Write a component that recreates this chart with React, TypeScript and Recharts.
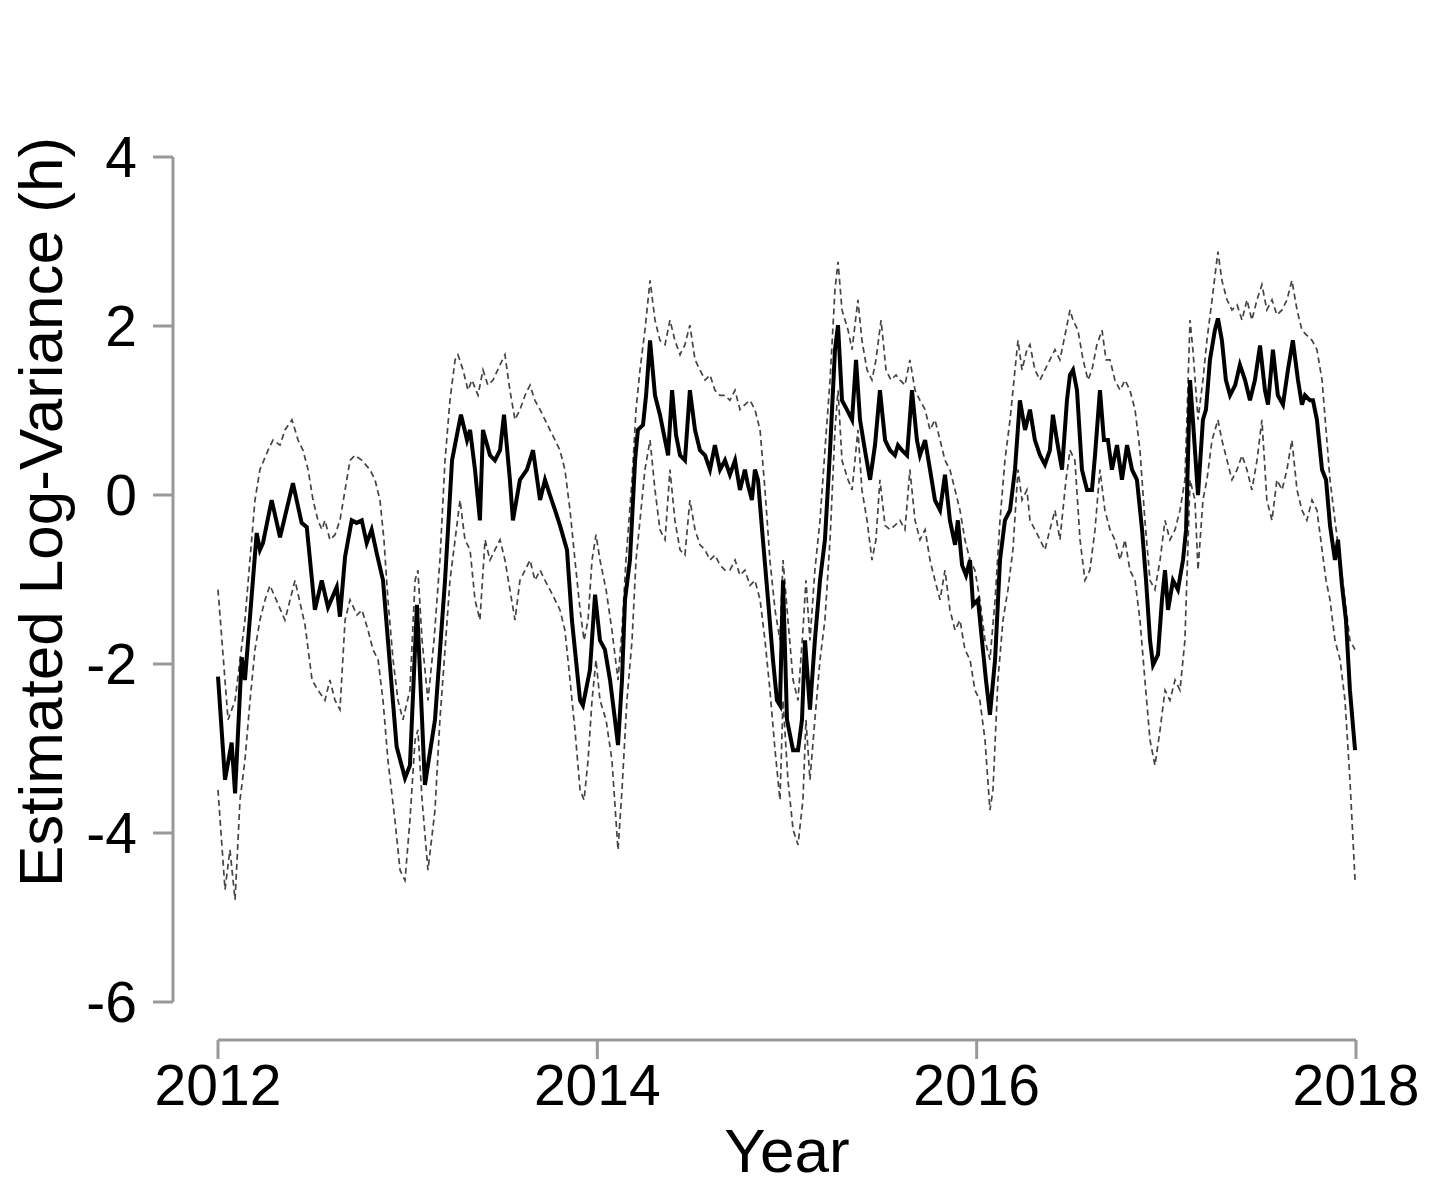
import { LineChart, Line, XAxis, YAxis } from "recharts";

// [year, estimated log-variance]
const meanSeries: [number, number][] = [
  [2012.0, -2.15], [2012.037, -3.37], [2012.072, -2.93], [2012.09, -3.53], [2012.125, -1.92], [2012.142, -2.19],
  [2012.204, -0.45], [2012.221, -0.65], [2012.237, -0.57], [2012.283, -0.06], [2012.327, -0.5], [2012.395, 0.14],
  [2012.441, -0.33], [2012.468, -0.38], [2012.511, -1.36], [2012.547, -1.01], [2012.58, -1.33], [2012.626, -1.09],
  [2012.643, -1.44], [2012.67, -0.73], [2012.705, -0.3], [2012.731, -0.33], [2012.758, -0.3], [2012.784, -0.57],
  [2012.81, -0.41], [2012.837, -0.69], [2012.87, -1.01], [2012.942, -2.98], [2012.986, -3.35], [2013.012, -3.2],
  [2013.049, -1.3], [2013.091, -3.43], [2013.144, -2.66], [2013.197, -1.01], [2013.234, 0.41], [2013.265, 0.77],
  [2013.281, 0.95], [2013.313, 0.65], [2013.329, 0.77], [2013.355, 0.3], [2013.381, -0.3], [2013.397, 0.77],
  [2013.434, 0.47], [2013.46, 0.41], [2013.487, 0.53], [2013.508, 0.95], [2013.539, 0.18], [2013.555, -0.3],
  [2013.592, 0.18], [2013.629, 0.3], [2013.661, 0.53], [2013.698, -0.06], [2013.724, 0.18], [2013.75, 0.0],
  [2013.777, -0.18], [2013.803, -0.36], [2013.84, -0.65], [2013.866, -1.48], [2013.909, -2.43], [2013.924, -2.49],
  [2013.961, -2.07], [2013.988, -1.18], [2014.014, -1.72], [2014.04, -1.83], [2014.067, -2.19], [2014.093, -2.66],
  [2014.109, -2.96], [2014.13, -2.19], [2014.146, -1.24], [2014.172, -0.77], [2014.199, 0.41], [2014.214, 0.77],
  [2014.241, 0.83], [2014.257, 1.18], [2014.278, 1.83], [2014.304, 1.18], [2014.33, 0.95], [2014.357, 0.65],
  [2014.373, 0.47], [2014.394, 1.24], [2014.415, 0.71], [2014.436, 0.47], [2014.462, 0.41], [2014.488, 1.24],
  [2014.515, 0.77], [2014.541, 0.53], [2014.568, 0.47], [2014.594, 0.3], [2014.62, 0.59], [2014.647, 0.3],
  [2014.673, 0.41], [2014.699, 0.24], [2014.726, 0.41], [2014.752, 0.06], [2014.778, 0.3], [2014.794, 0.12],
  [2014.815, -0.06], [2014.831, 0.3], [2014.847, 0.18], [2014.873, -0.53], [2014.9, -1.24], [2014.926, -1.95],
  [2014.947, -2.43], [2014.963, -2.49], [2014.979, -1.01], [2015.0, -2.66], [2015.032, -3.02], [2015.058, -3.02],
  [2015.079, -2.66], [2015.095, -1.72], [2015.121, -2.54], [2015.147, -1.72], [2015.174, -1.01], [2015.2, -0.53],
  [2015.227, 0.53], [2015.253, 1.72], [2015.269, 2.01], [2015.29, 1.12], [2015.316, 1.01], [2015.343, 0.89],
  [2015.364, 1.6], [2015.385, 0.89], [2015.411, 0.53], [2015.438, 0.18], [2015.464, 0.59], [2015.49, 1.24],
  [2015.517, 0.65], [2015.543, 0.53], [2015.569, 0.47], [2015.585, 0.59], [2015.606, 0.53], [2015.633, 0.47],
  [2015.659, 1.24], [2015.685, 0.65], [2015.701, 0.47], [2015.728, 0.65], [2015.754, 0.3], [2015.78, -0.06],
  [2015.807, -0.18], [2015.833, 0.24], [2015.859, -0.3], [2015.886, -0.59], [2015.901, -0.3], [2015.923, -0.83],
  [2015.944, -0.95], [2015.965, -0.77], [2015.981, -1.3], [2016.007, -1.24], [2016.028, -1.72], [2016.049, -2.19],
  [2016.07, -2.6], [2016.097, -1.95], [2016.123, -0.77], [2016.149, -0.3], [2016.176, -0.18], [2016.202, 0.3],
  [2016.228, 1.12], [2016.255, 0.77], [2016.281, 1.01], [2016.307, 0.65], [2016.334, 0.47], [2016.36, 0.36],
  [2016.386, 0.53], [2016.402, 0.95], [2016.423, 0.65], [2016.45, 0.3], [2016.476, 1.12], [2016.492, 1.42],
  [2016.508, 1.48], [2016.529, 1.24], [2016.555, 0.3], [2016.582, 0.06], [2016.608, 0.06], [2016.624, 0.47],
  [2016.65, 1.24], [2016.671, 0.65], [2016.692, 0.65], [2016.713, 0.3], [2016.74, 0.59], [2016.766, 0.18],
  [2016.793, 0.59], [2016.819, 0.3], [2016.845, 0.18], [2016.872, -0.41], [2016.893, -1.01], [2016.914, -1.72],
  [2016.93, -2.01], [2016.956, -1.89], [2016.977, -1.24], [2016.993, -0.89], [2017.009, -1.36], [2017.035, -1.01],
  [2017.061, -1.12], [2017.088, -0.77], [2017.104, -0.41], [2017.125, 1.36], [2017.14, 0.89], [2017.167, 0.0],
  [2017.193, 0.89], [2017.209, 1.01], [2017.23, 1.6], [2017.256, 1.95], [2017.272, 2.09], [2017.293, 1.83],
  [2017.314, 1.36], [2017.336, 1.18], [2017.363, 1.3], [2017.388, 1.54], [2017.415, 1.36], [2017.441, 1.12],
  [2017.467, 1.36], [2017.494, 1.77], [2017.52, 1.24], [2017.536, 1.07], [2017.562, 1.72], [2017.588, 1.18],
  [2017.615, 1.07], [2017.641, 1.48], [2017.667, 1.83], [2017.694, 1.36], [2017.715, 1.07], [2017.731, 1.18],
  [2017.757, 1.12], [2017.773, 1.12], [2017.794, 0.89], [2017.821, 0.3], [2017.842, 0.18], [2017.863, -0.36],
  [2017.889, -0.77], [2017.905, -0.53], [2017.926, -1.07], [2017.947, -1.48], [2017.968, -2.31], [2017.995, -3.02],
];

const upperSeries: [number, number][] = [
  [2012.0, -1.12], [2012.053, -2.66], [2012.09, -2.43], [2012.142, -1.48], [2012.195, -0.06], [2012.221, 0.3],
  [2012.264, 0.53], [2012.29, 0.65], [2012.327, 0.59], [2012.353, 0.77], [2012.39, 0.89], [2012.422, 0.65],
  [2012.448, 0.53], [2012.475, 0.3], [2012.501, -0.06], [2012.527, -0.3], [2012.548, -0.41], [2012.564, -0.3],
  [2012.59, -0.53], [2012.617, -0.47], [2012.643, -0.3], [2012.67, 0.06], [2012.696, 0.41], [2012.722, 0.47],
  [2012.759, 0.41], [2012.801, 0.3], [2012.828, 0.18], [2012.854, -0.06], [2012.875, -0.53], [2012.896, -1.24],
  [2012.923, -1.95], [2012.949, -2.43], [2012.975, -2.66], [2013.012, -2.31], [2013.039, -1.01], [2013.054, -0.89],
  [2013.076, -1.72], [2013.107, -2.43], [2013.139, -1.72], [2013.17, -0.77], [2013.197, 0.41], [2013.223, 1.12],
  [2013.25, 1.6], [2013.265, 1.66], [2013.292, 1.48], [2013.318, 1.24], [2013.339, 1.36], [2013.371, 1.18],
  [2013.397, 1.48], [2013.423, 1.3], [2013.45, 1.36], [2013.487, 1.54], [2013.513, 1.66], [2013.539, 1.24],
  [2013.566, 0.89], [2013.592, 1.01], [2013.619, 1.18], [2013.645, 1.3], [2013.671, 1.12], [2013.698, 1.01],
  [2013.724, 0.89], [2013.75, 0.77], [2013.777, 0.65], [2013.803, 0.53], [2013.829, 0.3], [2013.856, -0.18],
  [2013.882, -0.77], [2013.909, -1.36], [2013.93, -1.72], [2013.951, -1.48], [2013.972, -0.77], [2013.993, -0.47],
  [2014.014, -0.77], [2014.046, -1.12], [2014.077, -1.6], [2014.109, -2.19], [2014.13, -1.6], [2014.151, -0.77],
  [2014.183, 0.18], [2014.204, 1.01], [2014.225, 1.48], [2014.251, 1.95], [2014.278, 2.54], [2014.304, 2.07],
  [2014.33, 1.83], [2014.357, 1.78], [2014.383, 2.07], [2014.409, 1.83], [2014.436, 1.66], [2014.462, 1.78],
  [2014.488, 2.01], [2014.515, 1.6], [2014.541, 1.48], [2014.568, 1.36], [2014.594, 1.42], [2014.62, 1.24],
  [2014.647, 1.18], [2014.673, 1.18], [2014.699, 1.12], [2014.726, 1.24], [2014.752, 1.01], [2014.778, 1.07],
  [2014.805, 1.12], [2014.831, 1.01], [2014.858, 0.77], [2014.884, 0.06], [2014.91, -0.77], [2014.937, -1.36],
  [2014.963, -1.72], [2014.979, -0.77], [2015.005, -1.48], [2015.032, -2.19], [2015.058, -2.43], [2015.084, -1.6],
  [2015.1, -1.01], [2015.121, -1.72], [2015.147, -0.89], [2015.174, -0.3], [2015.2, 0.53], [2015.227, 1.36],
  [2015.253, 2.43], [2015.269, 2.76], [2015.29, 2.19], [2015.322, 1.95], [2015.343, 1.72], [2015.374, 2.31],
  [2015.395, 1.83], [2015.422, 1.48], [2015.448, 1.36], [2015.469, 1.6], [2015.496, 2.07], [2015.522, 1.48],
  [2015.548, 1.36], [2015.575, 1.42], [2015.596, 1.36], [2015.622, 1.3], [2015.648, 1.6], [2015.675, 1.24],
  [2015.701, 1.12], [2015.728, 1.01], [2015.754, 0.77], [2015.78, 0.89], [2015.807, 0.65], [2015.833, 0.41],
  [2015.859, 0.3], [2015.886, 0.06], [2015.912, -0.18], [2015.938, -0.53], [2015.965, -0.77], [2015.991, -0.89],
  [2016.017, -1.24], [2016.044, -1.72], [2016.07, -1.95], [2016.097, -1.24], [2016.123, -0.3], [2016.149, 0.41],
  [2016.176, 0.89], [2016.202, 1.48], [2016.218, 1.83], [2016.239, 1.48], [2016.265, 1.72], [2016.281, 1.78],
  [2016.307, 1.48], [2016.334, 1.36], [2016.36, 1.48], [2016.386, 1.6], [2016.413, 1.72], [2016.439, 1.6],
  [2016.471, 1.95], [2016.492, 2.19], [2016.508, 2.07], [2016.534, 1.95], [2016.561, 1.6], [2016.587, 1.36],
  [2016.608, 1.48], [2016.634, 1.78], [2016.661, 1.95], [2016.682, 1.6], [2016.703, 1.6], [2016.729, 1.36],
  [2016.756, 1.24], [2016.782, 1.36], [2016.808, 1.24], [2016.835, 1.01], [2016.861, 0.53], [2016.887, -0.3],
  [2016.914, -1.01], [2016.94, -1.12], [2016.967, -0.77], [2016.993, -0.3], [2017.019, -0.53], [2017.046, -0.41],
  [2017.072, -0.18], [2017.098, 0.18], [2017.125, 2.07], [2017.14, 1.72], [2017.167, 0.89], [2017.193, 1.36],
  [2017.214, 1.83], [2017.241, 2.31], [2017.272, 2.88], [2017.293, 2.54], [2017.32, 2.31], [2017.346, 2.19],
  [2017.373, 2.25], [2017.399, 2.07], [2017.425, 2.31], [2017.451, 2.07], [2017.478, 2.31], [2017.504, 2.49],
  [2017.53, 2.19], [2017.557, 2.31], [2017.583, 2.13], [2017.61, 2.19], [2017.636, 2.31], [2017.662, 2.54],
  [2017.689, 2.19], [2017.715, 1.95], [2017.741, 1.89], [2017.768, 1.83], [2017.794, 1.72], [2017.821, 1.36],
  [2017.842, 0.77], [2017.863, 0.18], [2017.889, -0.3], [2017.916, -0.77], [2017.942, -1.24], [2017.968, -1.72],
  [2017.995, -1.83],
];

const lowerSeries: [number, number][] = [
  [2012.0, -3.49], [2012.037, -4.67], [2012.063, -4.2], [2012.09, -4.79], [2012.116, -3.61], [2012.142, -3.14],
  [2012.169, -2.43], [2012.195, -1.83], [2012.221, -1.48], [2012.248, -1.24], [2012.274, -1.07], [2012.353, -1.48],
  [2012.406, -1.01], [2012.459, -1.54], [2012.496, -2.19], [2012.527, -2.31], [2012.564, -2.43], [2012.59, -2.19],
  [2012.617, -2.43], [2012.643, -2.54], [2012.67, -1.48], [2012.696, -1.24], [2012.733, -1.42], [2012.759, -1.36],
  [2012.791, -1.6], [2012.817, -1.83], [2012.844, -1.95], [2012.87, -2.43], [2012.896, -3.14], [2012.933, -3.85],
  [2012.96, -4.44], [2012.986, -4.56], [2013.012, -3.85], [2013.039, -2.9], [2013.054, -2.78], [2013.076, -3.61],
  [2013.107, -4.44], [2013.144, -3.73], [2013.17, -2.66], [2013.197, -1.83], [2013.223, -1.01], [2013.25, -0.53],
  [2013.276, -0.06], [2013.302, -0.53], [2013.329, -0.65], [2013.355, -1.24], [2013.381, -1.48], [2013.408, -0.53],
  [2013.434, -0.77], [2013.46, -0.65], [2013.487, -0.53], [2013.513, -0.77], [2013.539, -1.12], [2013.566, -1.48],
  [2013.592, -1.01], [2013.619, -0.89], [2013.645, -0.77], [2013.671, -1.01], [2013.698, -0.89], [2013.724, -1.01],
  [2013.75, -1.12], [2013.777, -1.24], [2013.803, -1.36], [2013.829, -1.6], [2013.856, -2.19], [2013.882, -2.78],
  [2013.909, -3.49], [2013.93, -3.61], [2013.951, -3.14], [2013.972, -2.43], [2013.993, -1.95], [2014.014, -2.43],
  [2014.046, -2.66], [2014.077, -3.14], [2014.109, -4.2], [2014.13, -3.49], [2014.156, -2.43], [2014.183, -1.72],
  [2014.204, -0.77], [2014.225, -0.3], [2014.251, 0.3], [2014.278, 0.65], [2014.304, 0.06], [2014.33, -0.41],
  [2014.357, -0.53], [2014.383, 0.3], [2014.409, -0.3], [2014.436, -0.65], [2014.462, -0.71], [2014.488, -0.06],
  [2014.515, -0.41], [2014.541, -0.59], [2014.568, -0.65], [2014.594, -0.77], [2014.62, -0.71], [2014.647, -0.83],
  [2014.673, -0.89], [2014.699, -0.89], [2014.726, -0.77], [2014.752, -0.95], [2014.778, -0.89], [2014.805, -1.07],
  [2014.831, -1.01], [2014.858, -1.24], [2014.884, -1.72], [2014.91, -2.31], [2014.937, -3.02], [2014.963, -3.61],
  [2014.979, -2.43], [2015.005, -3.37], [2015.032, -3.96], [2015.058, -4.14], [2015.084, -3.61], [2015.1, -2.66],
  [2015.121, -3.37], [2015.147, -2.66], [2015.174, -1.95], [2015.2, -1.48], [2015.227, -0.53], [2015.253, 0.77],
  [2015.269, 1.24], [2015.29, 0.41], [2015.322, 0.18], [2015.343, 0.06], [2015.374, 0.77], [2015.395, 0.06],
  [2015.422, -0.3], [2015.448, -0.77], [2015.469, -0.53], [2015.49, 0.18], [2015.517, -0.36], [2015.543, -0.41],
  [2015.569, -0.36], [2015.596, -0.3], [2015.622, -0.41], [2015.648, 0.3], [2015.675, -0.3], [2015.701, -0.53],
  [2015.728, -0.41], [2015.754, -0.77], [2015.78, -1.01], [2015.807, -1.24], [2015.833, -0.89], [2015.859, -1.36],
  [2015.886, -1.6], [2015.912, -1.48], [2015.938, -1.83], [2015.965, -1.95], [2015.991, -2.31], [2016.017, -2.43],
  [2016.044, -2.9], [2016.07, -3.73], [2016.086, -3.49], [2016.112, -2.19], [2016.139, -1.48], [2016.165, -1.12],
  [2016.191, -0.65], [2016.218, 0.3], [2016.239, -0.06], [2016.265, 0.06], [2016.281, -0.3], [2016.307, -0.41],
  [2016.334, -0.53], [2016.36, -0.65], [2016.386, -0.41], [2016.413, -0.18], [2016.439, -0.53], [2016.471, 0.18],
  [2016.492, 0.53], [2016.518, 0.41], [2016.545, -0.53], [2016.571, -1.01], [2016.597, -0.89], [2016.624, -0.41],
  [2016.65, 0.3], [2016.676, -0.18], [2016.703, -0.41], [2016.729, -0.53], [2016.756, -0.77], [2016.782, -0.53],
  [2016.808, -0.89], [2016.835, -1.01], [2016.861, -1.48], [2016.887, -2.19], [2016.914, -2.9], [2016.94, -3.2],
  [2016.967, -2.78], [2016.993, -2.31], [2017.019, -2.43], [2017.046, -2.19], [2017.072, -2.31], [2017.098, -1.72],
  [2017.125, 0.18], [2017.151, -0.06], [2017.167, -0.89], [2017.193, -0.06], [2017.214, 0.18], [2017.241, 0.65],
  [2017.272, 0.89], [2017.293, 0.65], [2017.32, 0.41], [2017.346, 0.18], [2017.373, 0.3], [2017.399, 0.47],
  [2017.425, 0.3], [2017.451, 0.06], [2017.478, 0.41], [2017.504, 0.89], [2017.53, -0.06], [2017.557, -0.3],
  [2017.583, 0.18], [2017.61, 0.06], [2017.636, 0.3], [2017.662, 0.65], [2017.689, 0.06], [2017.715, -0.18],
  [2017.741, -0.3], [2017.768, -0.06], [2017.794, -0.18], [2017.821, -0.65], [2017.842, -1.01], [2017.863, -1.24],
  [2017.889, -1.72], [2017.916, -1.95], [2017.942, -2.43], [2017.968, -3.37], [2017.995, -4.56],
];

const xTicks = [2012, 2014, 2016, 2018];
const yTicks = [-6, -4, -2, 0, 2, 4];
const xTitle = "Year";
const yTitle = "Estimated Log-Variance (h)";

const W = 1435;
const H = 1196;
const M = { top: 157, right: 79, left: 0, bottom: 0 };
const Y_AXIS_W = 218;
const X_AXIS_H = 194;
const PLOT_W = W - M.left - M.right - Y_AXIS_W;
const PLOT_H = H - M.top - M.bottom - X_AXIS_H;

const FONT = "'Liberation Sans', Arial, Helvetica, sans-serif";
const AXIS = "#999";
const FS = 57;
const TITLE_FS = 62;

// R draws its axes offset from the plotting region
const Y_LINE_X = 173;
const X_LINE_Y = 1040;

const toRows = (s: [number, number][]) => s.map(([t, v]) => ({ t, v }));

function YTick(props: any) {
  const { y, payload } = props;
  const top = payload.value === yTicks[yTicks.length - 1];
  return (
    <g>
      {top && <line x1={Y_LINE_X} x2={Y_LINE_X} y1={y} y2={y + PLOT_H} stroke={AXIS} strokeWidth={3} />}
      <line x1={Y_LINE_X - 20} x2={Y_LINE_X} y1={y} y2={y} stroke={AXIS} strokeWidth={3} />
      <text x={137} y={y} textAnchor="end" dominantBaseline="central" fontFamily={FONT} fontSize={FS} fill="#000">
        {payload.value}
      </text>
    </g>
  );
}

function XTick(props: any) {
  const { x, payload } = props;
  const first = payload.value === xTicks[0];
  return (
    <g>
      {first && <line x1={x} x2={x + PLOT_W} y1={X_LINE_Y} y2={X_LINE_Y} stroke={AXIS} strokeWidth={3} />}
      <line x1={x} x2={x} y1={X_LINE_Y} y2={X_LINE_Y + 19} stroke={AXIS} strokeWidth={3} />
      <text x={x} y={1105} textAnchor="middle" fontFamily={FONT} fontSize={FS} fill="#000">
        {payload.value}
      </text>
    </g>
  );
}

function XTitle() {
  return (
    <text x={M.left + Y_AXIS_W + PLOT_W / 2} y={1172} textAnchor="middle" fontFamily={FONT} fontSize={TITLE_FS} fill="#000">
      {xTitle}
    </text>
  );
}

function YTitle() {
  const cy = 512;
  return (
    <text x={62} y={cy} transform={`rotate(-90 62 ${cy})`} textAnchor="middle" fontFamily={FONT} fontSize={TITLE_FS} fill="#000">
      {yTitle}
    </text>
  );
}

export default function App() {
  return (
    <div style={{ position: "absolute", left: 0, top: 0, background: "#fff" }}>
      <LineChart width={W} height={H} margin={M}>
        <XAxis
          type="number"
          dataKey="t"
          domain={[2012, 2018]}
          ticks={xTicks}
          interval={0}
          axisLine={false}
          tickLine={false}
          height={X_AXIS_H}
          tick={(p: any) => <XTick {...p} />}
          label={<XTitle />}
        />
        <YAxis
          type="number"
          domain={[-6, 4]}
          ticks={yTicks}
          interval={0}
          axisLine={false}
          tickLine={false}
          width={Y_AXIS_W}
          tick={(p: any) => <YTick {...p} />}
          label={<YTitle />}
        />
        <Line data={toRows(upperSeries)} dataKey="v" type="linear" stroke="#444" strokeWidth={1.7} strokeDasharray="6 4" dot={false} isAnimationActive={false} />
        <Line data={toRows(lowerSeries)} dataKey="v" type="linear" stroke="#444" strokeWidth={1.7} strokeDasharray="6 4" dot={false} isAnimationActive={false} />
        <Line data={toRows(meanSeries)} dataKey="v" type="linear" stroke="#000" strokeWidth={4} dot={false} isAnimationActive={false} />
      </LineChart>
    </div>
  );
}
